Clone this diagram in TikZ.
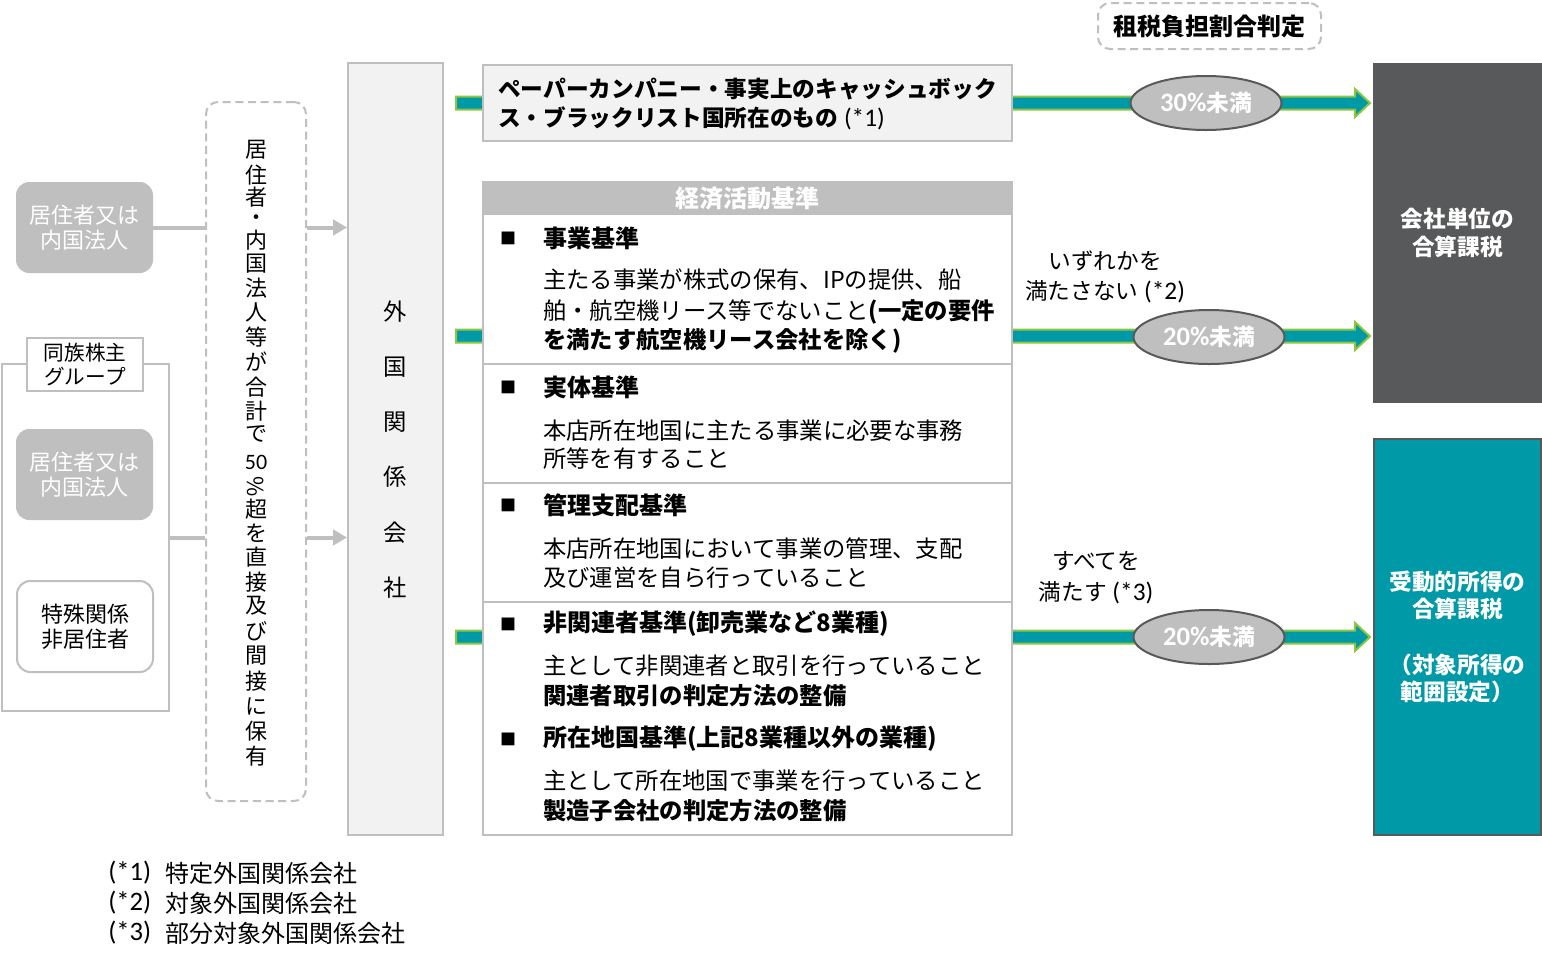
\documentclass[tikz,border=0pt]{standalone}
\usepackage{fontspec}
\setmainfont{Noto Sans CJK JP}
\newfontfamily\lat{Carlito}
\usetikzlibrary{calc,fit,shapes.geometric,arrows.meta}
\definecolor{lgray}{HTML}{BEBFBE}
\definecolor{bgray}{HTML}{BFBFBF}
\definecolor{panel}{HTML}{F2F2F2}
\definecolor{darkbox}{HTML}{58595B}
\definecolor{teal2}{HTML}{0099A8}
\definecolor{green2}{HTML}{8DC63F}
\definecolor{eborder}{HTML}{595959}
\newcommand{\fs}[2]{\fontsize{#1}{#2}\selectfont}
\newcommand{\fatarrow}[2]{%
  \filldraw[fatarr] ($(#1)+(0,6.5)$) -- ($(#2)+(-15,6.5)$) -- ($(#2)+(-15,14)$) -- (#2)
    -- ($(#2)+(-15,-14)$) -- ($(#2)+(-15,-6.5)$) -- ($(#1)+(0,-6.5)$) -- cycle;}
\begin{document}
\begin{tikzpicture}[x=0.75pt,y=-0.75pt,
  every node/.style={inner sep=0pt},
  gbox/.style={draw=bgray, line width=1.5pt},
  dashbox/.style={draw=bgray, line width=1.5pt, dash pattern=on 6pt off 3.5pt, rounded corners=9pt},
  rbox/.style={rounded corners=10pt},
  bl/.style={anchor=west, font=\fs{17.5}{21}},
  bh/.style={anchor=west, font=\fs{18}{21}\bfseries},
  sq/.style={font=\fs{12}{14}},
  vt/.style={font=\fs{16.5}{18}},
  fkt/.style={font=\fs{17.5}{20}},
  ell/.style={ellipse, fill=lgray, draw=eborder, line width=1.5pt, minimum width=151*0.75pt,
    minimum height=54*0.75pt, text=white, font=\fs{17}{20}\bfseries},
  fatarr/.style={fill=teal2, draw=green2, line width=1.5pt},
  gconn/.style={draw=lgray, line width=3pt},
  garr/.style={gconn, -{Triangle[length=10.5pt,width=11.5pt]}},
  lbox/.style={text=white, align=center, font=\fs{16.5}{18.75}},
]
\useasboundingbox (0,0) rectangle (1542,965);
\fill[white] (0,0) rectangle (1542,965);

% ---- fat arrows (behind boxes)
\coordinate (a1s) at (456,103); \coordinate (a1e) at (1370,103);
\coordinate (a2s) at (456,336); \coordinate (a2e) at (1370,336);
\coordinate (a3s) at (456,637); \coordinate (a3e) at (1370,637);
\fatarrow{a1s}{a1e}
\fatarrow{a2s}{a2e}
\fatarrow{a3s}{a3e}

% ---- top label
\node[dashbox, fit={(1098,3)(1321,49)}] (top) {};
\node[font=\fs{18}{21}\bfseries] (topt) at (top.center) {租税負担割合判定};

% ---- left side
\node[fit={(16,182)(153,273)}, fill=lgray, rbox] (b1) {};
\node[lbox] (b1t) at (b1.center) {居住者又は\\内国法人};
\node[gbox, fit={(2,364)(169,711)}] (grp) {};
\node[gbox, fill=white, fit={(27,338)(143,391)}] (grplab) {};
\node[align=center, font=\fs{15.5}{18}] (grplabt) at (grplab.center) {同族株主\\グループ};
\node[fit={(16,429)(153,520)}, fill=lgray, rbox] (b2) {};
\node[lbox] (b2t) at (b2.center) {居住者又は\\内国法人};
\node[fit={(17,581)(153,672)}, fill=white, draw=bgray, line width=1.5pt, rbox] (b3) {};
\node[lbox, text=black] (b3t) at (b3.center) {特殊関係\\非居住者};

% ---- dashed vertical box
\node[dashbox, fit={(206,102)(306,801)}] (dbox) {};
\foreach \c/\yy [count=\i] in {居/150,住/175,者/197,・/220,内/240,国/264,法/288,人/312,等/337,が/362,合/387,計/411,で/434,{\lat 50}/462,{\rotatebox{-90}{\%}}/487,超/509,を/533,直/557,接/582,及/606,び/631,間/656,接/681,に/706,保/731,有/756}
  \node[vt] (v\i) at (256,\yy) {\c};

% ---- foreign related company
\node[gbox, fill=panel, fit={(348,63)(443,835)}] (fk) {};
\foreach \c/\yy [count=\i] in {外/312,国/367,関/422,係/477,会/533,社/588}
  \node[fkt] (f\i) at (395,\yy) {\c};

% ---- gray connectors
\draw[gconn] (b1.east) -- (dbox.west |- b1.east);
\draw[garr] (dbox.east |- b1.east) -- (fk.west |- b1.east);
\draw[gconn] (grp.east) -- (dbox.west |- grp.east);
\draw[garr] (dbox.east |- grp.east) -- (fk.west |- grp.east);

% ---- paper company box
\node[gbox, fill=panel, fit={(483,65)(1012,141)}] (paper) {};
\node[anchor=west, font=\fs{17}{20}\bfseries] (p1) at (498,89) {ペーパーカンパニー・事実上のキャッシュボック};
\node[anchor=west, font=\fs{17}{20}\bfseries] (p2) at (498,118) {ス・ブラックリスト国所在のもの{\mdseries\lat\fontsize{19}{20}\selectfont\ (*1)}};

% ---- economic activity criteria
\node[gbox, fill=white, fit={(483,182)(1012,835)}] (econ) {};
\node[fit={(483,182)(1012,215)}, fill=lgray] (hdr) {};
\node[text=white, font=\fs{18}{21}\bfseries] (hdrt) at (hdr.center) {経済活動基準};
\draw[bgray, line width=1.5pt] (483,364) -- (1012,364);
\draw[bgray, line width=1.5pt] (483,483) -- (1012,483);
\draw[bgray, line width=1.5pt] (483,602) -- (1012,602);

\node[sq] (q1) at (508,238) {■};
\node[bh] (h1) at (543,238) {事業基準};
\node[bl] (t1a) at (543,280) {主たる事業が株式の保有、IPの提供、船};
\node[bl] (t1b) at (543,312) {舶・航空機リース等でないこと{\bfseries(一定の要件}};
\node[bl] (t1c) at (543,341) {\bfseries を満たす航空機リース会社を除く)};

\node[sq] (q2) at (508,387) {■};
\node[bh] (h2) at (543,387) {実体基準};
\node[bl] (t2a) at (543,431) {本店所在地国に主たる事業に必要な事務};
\node[bl] (t2b) at (543,459) {所等を有すること};

\node[sq] (q3) at (508,505) {■};
\node[bh] (h3) at (543,505) {管理支配基準};
\node[bl] (t3a) at (543,549) {本店所在地国において事業の管理、支配};
\node[bl] (t3b) at (543,578) {及び運営を自ら行っていること};

\node[sq] (q4) at (508,624) {■};
\node[bh] (h4) at (543,624) {非関連者基準(卸売業など8業種)};
\node[bl] (t4a) at (543,666) {主として非関連者と取引を行っていること};
\node[bl] (t4b) at (543,696) {\bfseries 関連者取引の判定方法の整備};

\node[sq] (q5) at (508,739) {■};
\node[bh] (h5) at (543,739) {所在地国基準(上記8業種以外の業種)};
\node[bl] (t5a) at (543,781) {主として所在地国で事業を行っていること};
\node[bl] (t5b) at (543,811) {\bfseries 製造子会社の判定方法の整備};

% ---- ellipses
\node[ell] (e1) at (1206,103) {{\lat\fontsize{20}{20}\selectfont 30\%}未満};
\node[ell] (e2) at (1209,337) {{\lat\fontsize{20}{20}\selectfont 20\%}未満};
\node[ell] (e3) at (1209,637) {{\lat\fontsize{20}{20}\selectfont 20\%}未満};

% ---- arrow labels
\node[align=center, font=\fs{17}{22.5}] (l2) at (1105,277) {いずれかを\\満たさない{\lat\fontsize{19}{20}\selectfont\ (*2)}};
\node[align=center, font=\fs{17}{23}] (l3) at (1096,578) {すべてを\\満たす{\lat\fontsize{19}{20}\selectfont\ (*3)}};

% ---- right boxes
\node[fill=darkbox, fit={(1373,63)(1542,403)}] (dk) {};
\node[text=white, align=center, font=\fs{17}{21}\bfseries] (dkt) at (dk.center) {会社単位の\\合算課税};
\node[fill=teal2, draw=eborder, line width=1.2pt, fit={(1374,439)(1541,835)}] (tl) {};
\node[text=white, align=center, font=\fs{17}{20.3}\bfseries] (tlt) at (tl.center) {受動的所得の\\合算課税\\\strut\\（対象所得の\\範囲設定）};

% ---- footnotes
\node[anchor=west, font=\lat\fs{20}{22}] (n1a) at (108,873) {(*1)};
\node[anchor=west, font=\fs{18}{22}] (n1b) at (165,873) {特定外国関係会社};
\node[anchor=west, font=\lat\fs{20}{22}] (n2a) at (108,903) {(*2)};
\node[anchor=west, font=\fs{18}{22}] (n2b) at (165,903) {対象外国関係会社};
\node[anchor=west, font=\lat\fs{20}{22}] (n3a) at (108,933) {(*3)};
\node[anchor=west, font=\fs{18}{22}] (n3b) at (165,933) {部分対象外国関係会社};
\end{tikzpicture}
\end{document}
